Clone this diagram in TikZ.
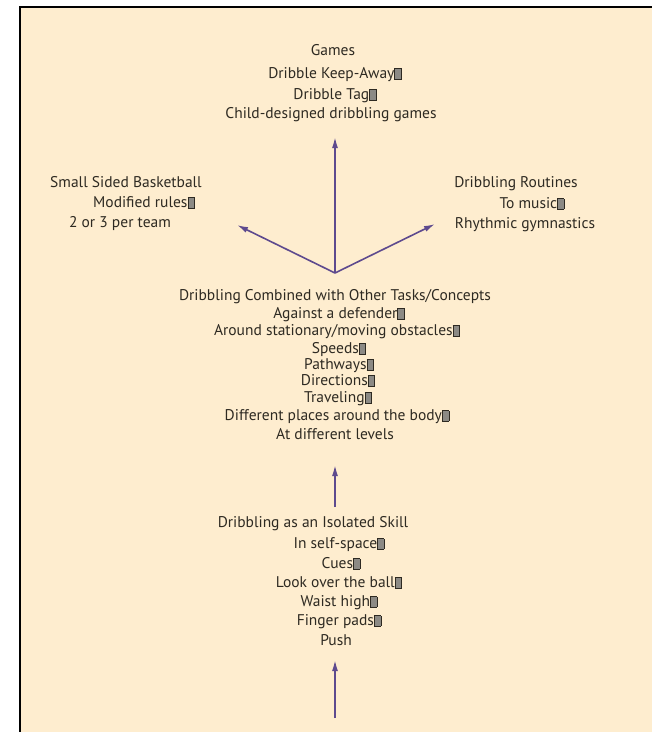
\documentclass[tikz,border=0pt]{standalone}
\usepackage{fontspec}
\setmainfont{PT Sans}
\usetikzlibrary{arrows.meta}
\definecolor{cream}{HTML}{FEEDCF}
\definecolor{ink}{HTML}{2E2A22}
\definecolor{arrowc}{HTML}{5E4A8E}
\newcommand{\bx}{{\fboxsep=0pt\fboxrule=0.7pt\fcolorbox{ink}{ink!55}{\rule{0pt}{0.62em}\hspace{0.38em}}}}
\tikzset{
  txt/.style={font=\fontsize{15.5}{17}\selectfont, text=ink, inner sep=0pt, text height=0.7em, text depth=0.2em, anchor=center, yshift=-3pt},
  arr/.style={draw=arrowc, line width=1.6pt, -{Latex[length=11pt,width=6pt]}}
}
\begin{document}
\begin{tikzpicture}[x=1pt,y=-1pt]
\useasboundingbox (0,0) rectangle (652,732);
\fill[white] (0,0) rectangle (652,732);
\fill[cream] (20,7) rectangle (652,732);
\draw[black, line width=2.4pt] (20,732) -- (20,7) -- (652,7);
% top block
\node[txt] (g0) at (333,50) {Games};
\node[txt] (g1) at (335,73) {Dribble Keep-Away\bx};
\node[txt] (g2) at (335,94) {Dribble Tag\bx};
\node[txt] (g3) at (331,113) {Child-designed dribbling games};
% left block
\node[txt] (l0) at (126,182) {Small Sided Basketball};
\node[txt] (l1) at (144,202) {Modified rules\bx};
\node[txt] (l2) at (120,222) {2 or 3 per team};
% right block
\node[txt] (r0) at (516,182) {Dribbling Routines};
\node[txt] (r1) at (532,203) {To music\bx};
\node[txt] (r2) at (525,223) {Rhythmic gymnastics};
% middle block
\node[txt] (m0) at (335,295) {Dribbling Combined with Other Tasks/Concepts};
\node[txt] (m1) at (339,313) {Against a defender\bx};
\node[txt] (m2) at (337,330) {Around stationary/moving obstacles\bx};
\node[txt] (m3) at (339,348) {Speeds\bx};
\node[txt] (m4) at (339,364) {Pathways\bx};
\node[txt] (m5) at (338,380) {Directions\bx};
\node[txt] (m6) at (338,397) {Traveling\bx};
\node[txt] (m7) at (337,415) {Different places around the body\bx};
\node[txt] (m8) at (335,434) {At different levels};
% bottom block
\node[txt] (b0) at (313,522) {Dribbling as an Isolated Skill};
\node[txt] (b1) at (339,543) {In self-space\bx};
\node[txt] (b2) at (341,563) {Cues\bx};
\node[txt] (b3) at (339,582) {Look over the ball\bx};
\node[txt] (b4) at (339,601) {Waist high\bx};
\node[txt] (b5) at (339,620) {Finger pads\bx};
\node[txt] (b6) at (336,640) {Push};
% arrow ends
\coordinate (hub) at (335,273);
\coordinate (gtip) at (335,137);
\coordinate (ltip) at (237,225);
\coordinate (rtip) at (435,224);
\coordinate (mbase) at (335,507);
\coordinate (mtip) at (335,465);
\coordinate (bbase) at (335,718);
\coordinate (btip) at (335,660);
\draw[arr] (hub) -- (gtip);
\draw[arr] (hub) -- (ltip);
\draw[arr] (hub) -- (rtip);
\draw[arr] (mbase) -- (mtip);
\draw[arr] (bbase) -- (btip);
\end{tikzpicture}
\end{document}
